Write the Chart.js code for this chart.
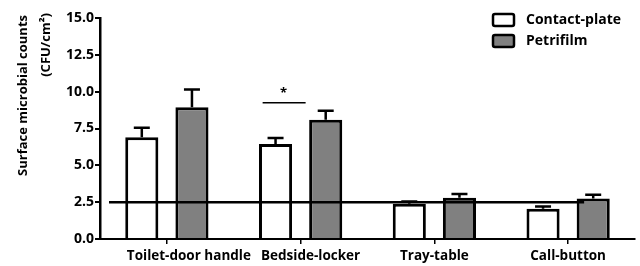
<!DOCTYPE html>
<html>
<head>
<meta charset="utf-8">
<script src="https://cdn.jsdelivr.net/npm/chart.js@4.4.0/dist/chart.umd.min.js"></script>
<style>
  html, body { margin: 0; padding: 0; background: #fff; }
  #wrap { width: 640px; height: 266px; }
</style>
</head>
<body>
<div id="wrap"><canvas id="chart"></canvas></div>
<script>
const categories = ['Toilet-door handle', 'Bedside-locker', 'Tray-table', 'Call-button'];
const seriesNames = ['Contact-plate', 'Petrifilm'];
const contactPlate = [6.9, 6.45, 2.4, 2.05];
const contactPlateErr = [7.55, 6.85, 2.55, 2.2];
const petrifilm = [8.95, 8.1, 2.8, 2.75];
const petrifilmErr = [10.15, 8.7, 3.05, 3.0];
const yTicks = [0, 2.5, 5, 7.5, 10, 12.5, 15];
const yTitle = ['Surface microbial counts', '(CFU/cm²)'];
const refValue = 2.5;
const sigValue = 9.25;

const FONT = 'Open Sans';
// the first two x labels sit a bit right of their ticks in the original
const labelShift = [22, 10, 0, 0];

const extras = {
  id: 'extras',
  afterDatasetsDraw(chart) {
    const { ctx, scales: { x, y }, chartArea } = chart;
    ctx.save();
    ctx.strokeStyle = '#000';
    ctx.fillStyle = '#000';
    ctx.lineWidth = 2.5;

    // reference line
    const ry = y.getPixelForValue(refValue);
    ctx.beginPath();
    ctx.moveTo(chartArea.left + 9, ry);
    ctx.lineTo(x.getPixelForValue(3) + 16, ry);
    ctx.stroke();

    // error bars
    const errs = [contactPlateErr, petrifilmErr];
    chart.data.datasets.forEach((ds, i) => {
      chart.getDatasetMeta(i).data.forEach((bar, j) => {
        const top = y.getPixelForValue(errs[i][j]);
        ctx.beginPath();
        ctx.moveTo(bar.x, bar.y);
        ctx.lineTo(bar.x, top);
        ctx.moveTo(bar.x - 8, top);
        ctx.lineTo(bar.x + 8, top);
        ctx.stroke();
      });
    });

    // significance bracket
    const cx = x.getPixelForValue(1);
    const sy = y.getPixelForValue(sigValue);
    ctx.lineWidth = 1.5;
    ctx.beginPath();
    ctx.moveTo(cx - 38, sy);
    ctx.lineTo(cx + 5, sy);
    ctx.stroke();
    ctx.font = `bold 13px "${FONT}"`;
    ctx.textAlign = 'center';
    ctx.textBaseline = 'middle';
    ctx.fillText('*', cx - 17, sy - 9);

    // x labels
    ctx.font = `bold 13.5px "${FONT}"`;
    categories.forEach((c, i) => {
      ctx.fillText(c, x.getPixelForValue(i) + labelShift[i], chartArea.bottom + 17);
    });

    // y title, two lines, end-aligned at the top
    ctx.font = `bold 13px "${FONT}"`;
    ctx.textAlign = 'right';
    [[23, 15], [46, 13]].forEach(([tx, ty], i) => {
      ctx.save();
      ctx.translate(tx, ty);
      ctx.rotate(-Math.PI / 2);
      ctx.fillText(yTitle[i], 0, 0);
      ctx.restore();
    });

    // legend
    const fills = ['#ffffff', '#808080'];
    ctx.textAlign = 'left';
    chart.data.datasets.forEach((ds, i) => {
      const bx = 493, by = 14 + i * 21;
      ctx.lineWidth = 2.5;
      ctx.fillStyle = fills[i];
      ctx.beginPath();
      ctx.roundRect(bx, by, 21, 12, 2);
      ctx.fill();
      ctx.stroke();
      ctx.fillStyle = '#000';
      ctx.font = `bold 14px "${FONT}"`;
      ctx.fillText(ds.label, 526, by + 6);
    });
    ctx.restore();
  }
};

new Chart(document.getElementById('chart'), {
  type: 'bar',
  data: {
    labels: categories,
    datasets: [{
      label: seriesNames[0],
      data: contactPlate,
      backgroundColor: '#ffffff',
      borderColor: '#000000',
      borderWidth: 3,
      borderSkipped: 'start',
      barPercentage: 0.66,
      categoryPercentage: 0.75
    }, {
      label: seriesNames[1],
      data: petrifilm,
      backgroundColor: '#808080',
      borderColor: '#000000',
      borderWidth: 3,
      borderSkipped: 'start',
      barPercentage: 0.66,
      categoryPercentage: 0.75
    }]
  },
  options: {
    responsive: true,
    maintainAspectRatio: false,
    animation: false,
    layout: {
      padding: { top: 18, right: 5, bottom: 0, left: 0 }
    },
    plugins: {
      legend: { display: false },
      tooltip: { enabled: false }
    },
    scales: {
      x: {
        grid: {
          display: true,
          offset: false,
          drawOnChartArea: false,
          drawTicks: true,
          tickLength: 5,
          color: '#000',
          lineWidth: 1.5
        },
        border: { display: true, color: '#000', width: 2 },
        ticks: { display: false },
        afterFit(s) { s.height = 27; }
      },
      y: {
        min: 0,
        max: 15,
        afterBuildTicks(s) { s.ticks = yTicks.map(v => ({ value: v })); },
        grid: {
          display: true,
          drawOnChartArea: false,
          drawTicks: true,
          tickLength: 5,
          color: '#000',
          lineWidth: 2
        },
        border: { display: true, color: '#000', width: 2.5 },
        ticks: {
          font: { family: FONT, size: 14, weight: 'bold' },
          color: '#000',
          padding: 1,
          callback: v => v.toFixed(1)
        },
        afterFit(s) { s.width = 100; }
      }
    }
  },
  plugins: [extras]
});
</script>
</body>
</html>
